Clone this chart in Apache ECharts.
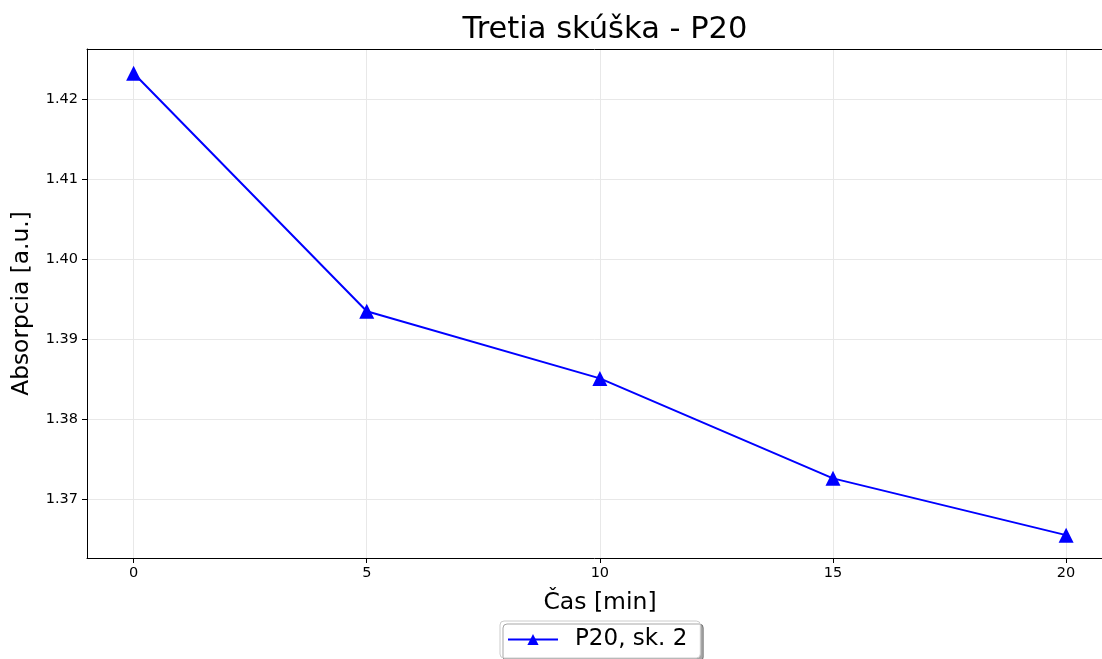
<!DOCTYPE html>
<html>
<head>
<meta charset="utf-8">
<script src="https://cdn.jsdelivr.net/npm/echarts@6/dist/echarts.min.js"></script>
<style>html,body{margin:0;padding:0;background:#fff;}#c{width:1102px;height:659px;}</style>
</head>
<body>
<div id="c"></div>
<script>
const titleText = "Tretia skúška - P20";
const seriesName = "P20, sk. 2";
const xValues = [0, 5, 10, 15, 20];
const yValues = [1.42325, 1.3935, 1.3851, 1.3726, 1.3655];
const xTicks = [0, 5, 10, 15, 20];
const yTicks = [1.37, 1.38, 1.39, 1.40, 1.41, 1.42];
const xLabel = "Čas [min]";
const yLabel = "Absorpcia [a.u.]";

const font = "DejaVu Sans";
const chart = echarts.init(document.getElementById('c'), null, {renderer: 'canvas'});
chart.setOption({
  animation: false,
  backgroundColor: '#ffffff',
  title: {
    text: titleText, left: 600, top: 10, textAlign: 'center',
    textStyle: {fontFamily: font, fontSize: 30.5, fontWeight: 'normal', color: '#000'}
  },
  legend: {
    data: [{name: seriesName}],
    left: 500, top: 621,
    itemWidth: 50, itemHeight: 14, itemGap: 10,
    padding: [7, 13, 7, 7],
    borderColor: '#cccccc', borderWidth: 1, borderRadius: 4,
    backgroundColor: '#fff',
    shadowColor: 'rgba(0,0,0,0.35)', shadowOffsetX: 3, shadowOffsetY: 3, shadowBlur: 0,
    textStyle: {fontFamily: font, fontSize: 23, color: '#000', padding: [0, 0, 0, 12]}
  },
  grid: {left: 87, top: 49, right: 0, bottom: 101, show: false},
  xAxis: [{
    type: 'value', min: -1, max: 20.77,
    name: xLabel, nameLocation: 'middle', nameGap: 33,
    nameTextStyle: {fontFamily: font, fontSize: 23.5, color: '#000', padding: [0, 0, 0, 11]},
    axisLine: {show: true, onZero: false, lineStyle: {color: '#000', width: 1}},
    axisTick: {show: true, inside: false, length: 5, lineStyle: {color: '#000'}, customValues: xTicks},
    axisLabel: {fontFamily: font, fontSize: 14.5, color: '#000', margin: 8, customValues: xTicks},
    splitLine: {show: true, lineStyle: {color: '#e8e8e8', width: 1}}
  }, {
    type: 'value', position: 'top', min: -1, max: 20.77,
    axisLine: {show: true, onZero: false, lineStyle: {color: '#000', width: 1}},
    axisTick: {show: false}, axisLabel: {show: false}, splitLine: {show: false}
  }],
  yAxis: {
    type: 'value', min: 1.36264, max: 1.42629,
    name: yLabel, nameLocation: 'middle', nameGap: 54,
    nameTextStyle: {fontFamily: font, fontSize: 23.3, color: '#000'},
    axisLine: {show: true, onZero: false, lineStyle: {color: '#000', width: 1}},
    axisTick: {show: true, inside: false, length: 5, lineStyle: {color: '#000'}, customValues: yTicks},
    axisLabel: {fontFamily: font, fontSize: 14.5, color: '#000', margin: 9, customValues: yTicks,
      formatter: v => v.toFixed(2)},
    splitLine: {show: true, lineStyle: {color: '#e8e8e8', width: 1}}
  },
  series: [{
    name: seriesName, type: 'line',
    data: xValues.map((x, i) => [x, yValues[i]]),
    symbol: 'triangle', symbolSize: 15,
    itemStyle: {color: '#0000ff'},
    lineStyle: {color: '#0000ff', width: 2},
    z: 3
  }]
});
</script>
</body>
</html>
